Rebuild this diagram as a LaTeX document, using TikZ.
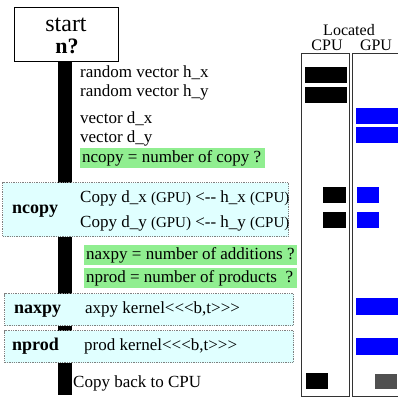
\documentclass[tikz,border=0pt]{standalone}
\usepackage{fontspec}
\setmainfont{Liberation Serif}
\definecolor{lgreen}{RGB}{144,238,144}
\definecolor{lcyan}{RGB}{224,255,255}
\definecolor{dgray}{RGB}{80,80,80}
\begin{document}
\begin{tikzpicture}[x=1pt,y=-1pt,
  txt/.style={anchor=base west, inner sep=0pt, font=\fontsize{17}{19}\selectfont},
  lbl/.style={anchor=base west, inner sep=0pt, font=\fontsize{18}{20}\selectfont\bfseries},
  hdr/.style={anchor=base, inner sep=0pt, font=\fontsize{16}{18}\selectfont},
  greenbox/.style={fill=lgreen, anchor=north west, inner xsep=2pt, inner ysep=0pt,
    minimum height=20pt, text height=13pt, text depth=4pt,
    font=\fontsize{17}{19}\selectfont},
  panel/.style={draw=gray, densely dotted, line width=1.3pt, fill=lcyan, anchor=north west, inner sep=0pt},
  colbox/.style={draw=black!80, line width=1pt, anchor=north west, inner sep=0pt},
  startbox/.style={draw, line width=1pt, fill=white, inner sep=0pt, align=center},
  timeline/.style={fill=black, inner sep=0pt, minimum width=14pt, anchor=north}]
\useasboundingbox (0,0) rectangle (398,401);

% start node and the black timeline
\node[startbox, minimum width=104pt, minimum height=54pt] (start) at (66,35) {};
\node[timeline, minimum height=333pt] (bar) at (65,62) {};
\node[startbox, minimum width=104pt, minimum height=54pt] (startb) at (66,35) {};
\node[anchor=base, inner sep=0pt, font=\fontsize{24}{20}\selectfont] (starttxt) at (66,32) {start};
\node[anchor=base, inner sep=0pt, font=\fontsize{22}{20}\selectfont\bfseries] (ntxt) at (67,54) {n?};

% texts
\node[txt] (hx) at (80,78) {random vector h\_x};
\node[txt] (hy) at (80,97) {random vector h\_y};
\node[txt] (dx) at (80,123) {vector d\_x};
\node[txt] (dy) at (80,142) {vector d\_y};
\node[greenbox] (gcopy) at (80,148) {\makebox[181pt][l]{ncopy = number of copy ?}};

% ncopy panel
\node[panel, minimum width=286pt, minimum height=54pt] (ncopy) at (2,182) {};
\node[lbl] (ncopylbl) at (12,213) {ncopy};
\node[txt] (c1) at (80,202) {Copy d\_x {\fontsize{15}{17}\selectfont(GPU)} <-{}- h\_x {\fontsize{15}{17}\selectfont(CPU)}};
\node[txt] (c2) at (80,227) {Copy d\_y {\fontsize{15}{17}\selectfont(GPU)} <-{}- h\_y {\fontsize{15}{17}\selectfont(CPU)}};

\node[greenbox] (gaxpy) at (84,245) {\makebox[209pt][l]{naxpy = number of additions ?}};
\node[greenbox] (gprod) at (84,268) {\makebox[209pt][l]{nprod = number of products\ \ ?}};

% naxpy / nprod panels
\node[panel, minimum width=289pt, minimum height=32pt] (naxpy) at (4,293) {};
\node[lbl] (naxpylbl) at (14,313) {naxpy};
\node[txt] (axk) at (85,313) {axpy kernel{<}{<}{<}b,t{>}{>}{>}};
\node[panel, minimum width=289pt, minimum height=32pt] (nprod) at (4,330) {};
\node[lbl] (nprodlbl) at (12,350) {nprod};
\node[txt] (prk) at (84,350) {prod kernel{<}{<}{<}b,t{>}{>}{>}};

\node[txt] (back) at (73,387) {Copy back to CPU};

% location columns
\node[hdr] (located) at (349,36) {Located};
\node[hdr] (cpuh) at (327,51) {CPU};
\node[hdr] (gpuh) at (376,51) {GPU};
\node[colbox, minimum width=48pt, minimum height=343pt] (cpucol) at (301,53) {};
\node[colbox, minimum width=52pt, minimum height=343pt] (gpucol) at (352,53) {};

% CPU / GPU blocks
\fill[black] (305,67) rectangle (347,83);
\fill[black] (305,87) rectangle (347,103);
\fill[blue] (356,108) rectangle (399,124);
\fill[blue] (356,127) rectangle (399,143);
\fill[black] (323,187) rectangle (346,203);
\fill[blue] (357,187) rectangle (379,203);
\fill[black] (323,212) rectangle (346,228);
\fill[blue] (357,212) rectangle (379,228);
\fill[blue] (356,298) rectangle (399,315);
\fill[blue] (356,338) rectangle (399,355);
\fill[black] (306,373) rectangle (328,389);
\fill[dgray] (375,374) rectangle (397,389);
\end{tikzpicture}
\end{document}
